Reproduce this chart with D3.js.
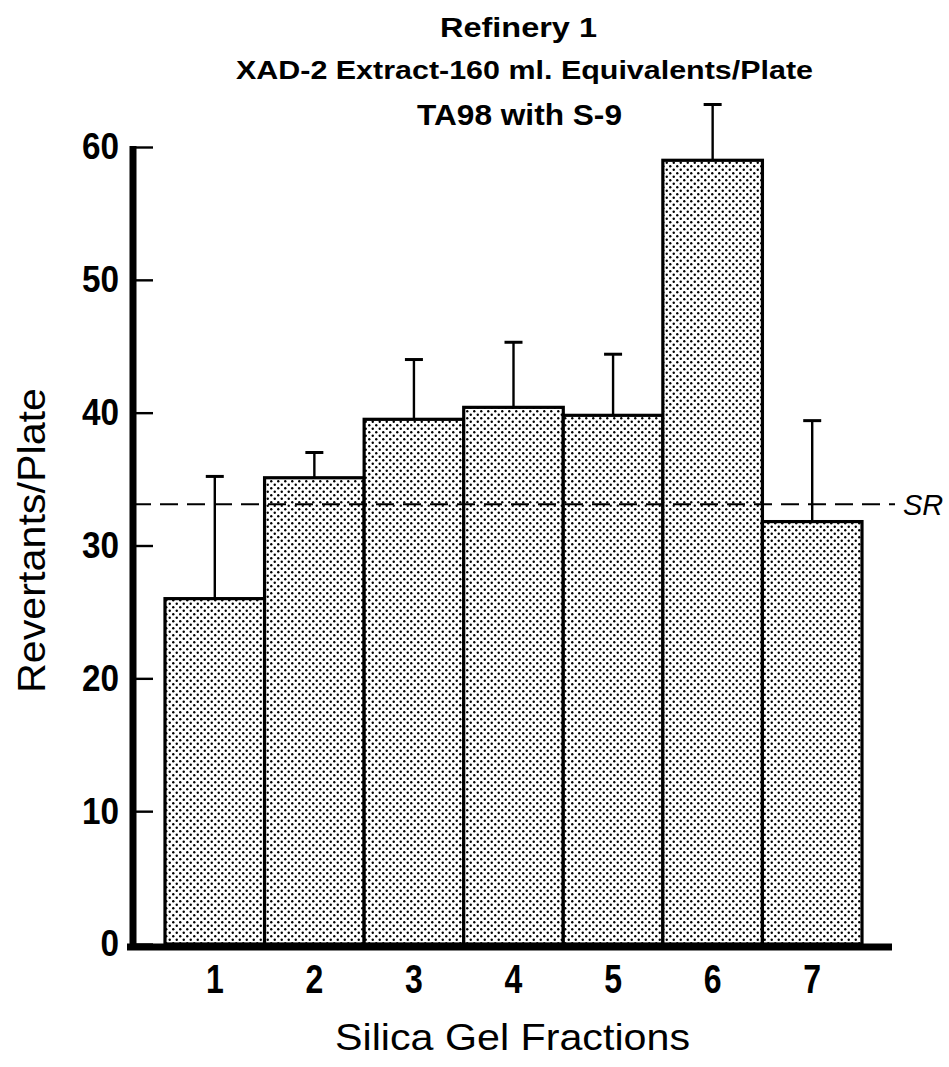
<!DOCTYPE html>
<html>
<head>
<meta charset="utf-8">
<script src="https://cdn.jsdelivr.net/npm/d3@7"></script>
<style>
  html, body { margin: 0; padding: 0; background: #fff; }
  svg { display: block; }
  text { font-family: "Liberation Sans", Arial, Helvetica, sans-serif; fill: #000; }
</style>
</head>
<body>
<svg id="chart" width="949" height="1067"></svg>
<script>
// ---- data ----
const categories = ["1", "2", "3", "4", "5", "6", "7"];
const values = [26.0, 35.1, 39.5, 40.4, 39.8, 59.0, 31.8];
const errors = [9.2, 1.9, 4.5, 4.9, 4.6, 4.2, 7.6];
const yTickValues = [0, 10, 20, 30, 40, 50, 60];
const srLevel = 33.1;
const titleLines = ["Refinery 1", "XAD-2 Extract-160 ml. Equivalents/Plate", "TA98 with S-9"];
const xTitle = "Silica Gel Fractions";
const yTitle = "Revertants/Plate";
const srLabel = "SR";

const svg = d3.select("#chart");

const y = d3.scaleLinear().domain([0, 60]).range([944, 147]);
const x = d3.scaleBand().domain(categories).range([165, 862]).padding(0);

// dot pattern
const defs = svg.append("defs");
const pat = defs.append("pattern")
  .attr("id", "dots").attr("patternUnits", "userSpaceOnUse")
  .attr("width", 7).attr("height", 7);
pat.append("rect").attr("width", 7).attr("height", 7).attr("fill", "#fff");
pat.append("circle").attr("cx", 1.75).attr("cy", 1.75).attr("r", 1.2).attr("fill", "#000");
pat.append("circle").attr("cx", 5.25).attr("cy", 5.25).attr("r", 1.2).attr("fill", "#000");

const data = categories.map((c, i) => ({ c, v: values[i], e: errors[i] }));

// bars
svg.append("g").selectAll("rect").data(data).join("rect")
  .attr("x", d => x(d.c))
  .attr("y", d => y(d.v))
  .attr("width", x.bandwidth())
  .attr("height", d => y(0) - y(d.v))
  .attr("fill", "url(#dots)")
  .attr("stroke", "#000")
  .attr("stroke-width", 3.2);

// error bars
const eg = svg.append("g").attr("stroke", "#000");
eg.selectAll("line.v").data(data).join("line").attr("class", "v")
  .attr("x1", d => x(d.c) + x.bandwidth() / 2)
  .attr("x2", d => x(d.c) + x.bandwidth() / 2)
  .attr("y1", d => y(d.v))
  .attr("y2", d => y(d.v + d.e))
  .attr("stroke-width", 2.4);
eg.selectAll("line.cap").data(data).join("line").attr("class", "cap")
  .attr("x1", d => x(d.c) + x.bandwidth() / 2 - 9)
  .attr("x2", d => x(d.c) + x.bandwidth() / 2 + 9)
  .attr("y1", d => y(d.v + d.e))
  .attr("y2", d => y(d.v + d.e))
  .attr("stroke-width", 3);

// SR dashed line
svg.append("line")
  .attr("x1", 133).attr("x2", 895)
  .attr("y1", y(srLevel)).attr("y2", y(srLevel))
  .attr("stroke", "#000").attr("stroke-width", 2)
  .attr("stroke-dasharray", "18,9");
svg.append("text")
  .attr("x", 903).attr("y", y(srLevel) + 11)
  .attr("font-size", 29).attr("font-style", "italic")
  .text(srLabel);

// y axis
const yAxis = d3.axisLeft(y).tickValues(yTickValues).tickSizeInner(-20).tickSizeOuter(0).tickPadding(0);
const gy = svg.append("g").attr("transform", "translate(133,0)").call(yAxis);
gy.select(".domain").remove();
gy.selectAll(".tick line").attr("stroke", "#000").attr("stroke-width", 2.4);
gy.selectAll(".tick text")
  .attr("x", null)
  .attr("transform", "translate(-14,0) scale(0.9,1)")
  .attr("font-family", "Liberation Sans, Arial, sans-serif")
  .attr("font-size", 37).attr("font-weight", "bold").attr("fill", "#000");
svg.append("line").attr("x1", 133).attr("x2", 133).attr("y1", 146).attr("y2", 950)
  .attr("stroke", "#000").attr("stroke-width", 7);

// x axis
const xAxis = d3.axisBottom(x).tickSize(0).tickPadding(0);
const gx = svg.append("g").attr("transform", "translate(0,947)").call(xAxis);
gx.select(".domain").remove();
gx.selectAll(".tick text")
  .attr("y", null).attr("dy", null)
  .attr("transform", "translate(0,46) scale(0.8,1)")
  .attr("font-family", "Liberation Sans, Arial, sans-serif")
  .attr("font-size", 40).attr("font-weight", "bold").attr("fill", "#000");
svg.append("line").attr("x1", 127).attr("x2", 892).attr("y1", 947).attr("y2", 947)
  .attr("stroke", "#000").attr("stroke-width", 7);

// axis titles
svg.append("text")
  .attr("x", 335).attr("y", 1050)
  .attr("font-size", 36)
  .attr("textLength", 355).attr("lengthAdjust", "spacingAndGlyphs")
  .text(xTitle);
svg.append("text")
  .attr("transform", "translate(45,693) rotate(-90)")
  .attr("font-size", 39)
  .attr("textLength", 305).attr("lengthAdjust", "spacingAndGlyphs")
  .text(yTitle);

// titles
const titlePos = [
  { x: 440, y: 37, w: 157, fs: 27 },
  { x: 236, y: 79, w: 577, fs: 26 },
  { x: 417, y: 125, w: 205, fs: 30 }
];
titleLines.forEach((t, i) => {
  const p = titlePos[i];
  svg.append("text")
    .attr("x", p.x).attr("y", p.y)
    .attr("font-size", p.fs).attr("font-weight", "bold")
    .attr("textLength", p.w).attr("lengthAdjust", "spacingAndGlyphs")
    .text(t);
});
</script>
</body>
</html>
